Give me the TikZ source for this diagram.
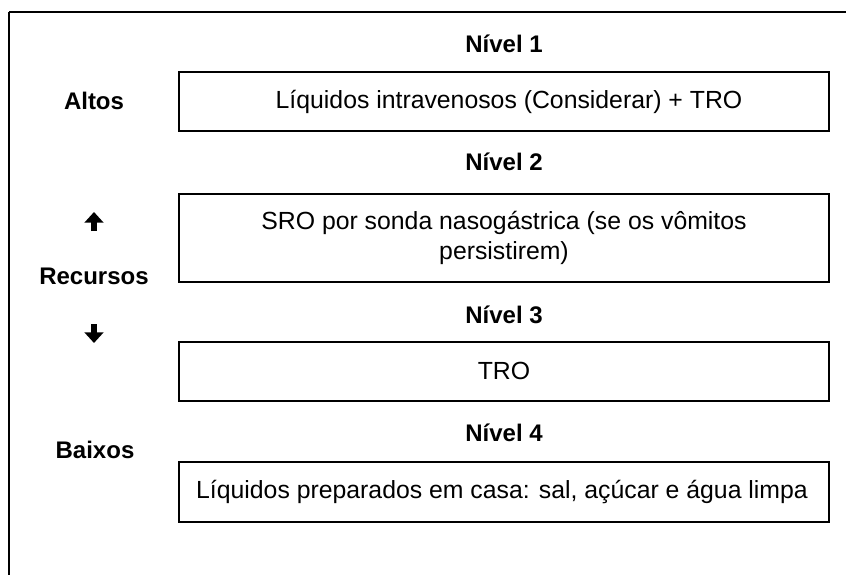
\documentclass[tikz,border=0pt]{standalone}
\usepackage{fontspec}
\setmainfont{Liberation Sans}
\usetikzlibrary{arrows.meta}

\tikzset{every picture/.style={line width=1.1pt}}
\tikzset{
  boxtext/.style={inner sep=0.75pt, font=\fontsize{18.6}{22.5}\selectfont, align=center},
  headtext/.style={inner sep=0.75pt, font=\fontsize{18}{21}\selectfont\bfseries},
  fatarrow/.style={line width=4.6pt, -{Triangle[width=14pt,length=8pt]}}
}

\begin{document}
\begin{tikzpicture}[x=0.75pt,y=0.75pt,yscale=-1,xscale=1]
\useasboundingbox (0,0) rectangle (846,575);

%Straight Lines [frame]
\draw    (9,12) -- (846,12) ;
\draw    (9,12) -- (9,575) ;

%Shape: Rectangle [nivel 1]
\draw   (179,72) rectangle (829,131) ;
%Shape: Rectangle [nivel 2]
\draw   (179,194) rectangle (829,282) ;
%Shape: Rectangle [nivel 3]
\draw   (179,342) rectangle (829,401) ;
%Shape: Rectangle [nivel 4]
\draw   (179,462) rectangle (829,522) ;

% Text Node
\node [headtext] (n1) at (504,44) {Nível 1};
% Text Node
\node [boxtext] (t1) at (509,101.5) {Líquidos intravenosos (Considerar) + TRO};
% Text Node
\node [headtext] (n2) at (504,162) {Nível 2};
% Text Node
\node [boxtext] (t2) at (504,237.5) {SRO por sonda nasogástrica (se os vômitos\\persistirem)};
% Text Node
\node [headtext] (n3) at (504,315) {Nível 3};
% Text Node
\node [boxtext] (t3) at (504,371) {TRO};
% Text Node
\node [headtext] (n4) at (504,433) {Nível 4};
% Text Node
\node [boxtext] (t4) at (502,492) {Líquidos preparados em casa: sal, açúcar e água limpa};

% Text Node
\node [headtext] (altos) at (94,101) {Altos};
% Text Node
\node [headtext] (recursos) at (94,276) {Recursos};
% Text Node
\node [headtext] (baixos) at (95,450) {Baixos};

%Arrows [up / down]
\coordinate (upbot) at (94,231) ;
\coordinate (uptop) at (94,212) ;
\coordinate (dntop) at (94,324) ;
\coordinate (dnbot) at (94,343) ;
\draw [fatarrow]  (upbot) -- (uptop) ;
\draw [fatarrow]  (dntop) -- (dnbot) ;

\end{tikzpicture}
\end{document}
